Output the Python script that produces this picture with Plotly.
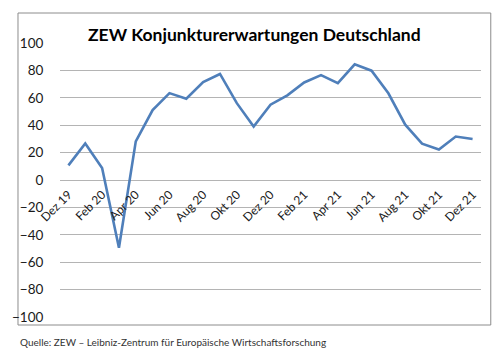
import plotly.graph_objects as go

months = ["Dez 19", "Jan 20", "Feb 20", "Mrz 20", "Apr 20", "Mai 20", "Jun 20", "Jul 20",
          "Aug 20", "Sep 20", "Okt 20", "Nov 20", "Dez 20", "Jan 21", "Feb 21", "Mrz 21",
          "Apr 21", "Mai 21", "Jun 21", "Jul 21", "Aug 21", "Sep 21", "Okt 21", "Nov 21", "Dez 21"]
values = [10.7, 26.7, 8.7, -49.5, 28.2, 51.0, 63.4, 59.3, 71.5, 77.4, 56.1, 39.0, 55.0,
          61.8, 71.2, 76.6, 70.7, 84.4, 79.8, 63.3, 40.4, 26.5, 22.3, 31.7, 29.9]
tick_labels = months[::2]
y_ticks = list(range(-100, 101, 20))

W, H = 500, 354
L, R, T, B = 50, 19, 43, 37
pw, ph = W - L - R, H - T - B

def px_x(p):
    return (p - L) / pw

def px_y(p):
    return (H - B - p) / ph

fig = go.Figure()
fig.add_trace(go.Scatter(
    x=list(range(len(months))), y=values, mode="lines",
    line=dict(color="#4f7fba", width=2.6), hoverinfo="skip", showlegend=False))

fig.update_layout(
    width=W, height=H,
    margin=dict(l=L, r=R, t=T, b=B),
    paper_bgcolor="white", plot_bgcolor="white",
    font=dict(family="Lato, Open Sans, sans-serif", color="#1a1a1a"),
    xaxis=dict(
        range=[-0.5, len(months) - 0.5],
        tickmode="array",
        tickvals=list(range(0, len(months), 2)),
        ticktext=tick_labels,
        tickangle=-45,
        tickfont=dict(size=12),
        showgrid=False, zeroline=False, showline=False,
        ticks="outside", ticklen=2, tickcolor="rgba(0,0,0,0)",
        anchor="free", position=0.5,
    ),
    yaxis=dict(
        range=[-100, 100],
        tickvals=y_ticks,
        tickfont=dict(size=13.5),
        showgrid=True, gridcolor="#b4b4b4", gridwidth=1.2,
        zeroline=False, showline=False,
        ticks="outside", ticklen=13, tickcolor="rgba(0,0,0,0)",
    ),
    shapes=[dict(type="rect", xref="paper", yref="paper",
                 x0=px_x(7), x1=px_x(491), y0=px_y(325), y1=px_y(13),
                 line=dict(color="#8c8c8c", width=1), fillcolor="rgba(0,0,0,0)", layer="below")],
    annotations=[
        dict(text="<b>ZEW Konjunkturerwartungen Deutschland</b>", xref="paper", yref="paper",
             x=px_x(249), y=px_y(34), xanchor="center", yanchor="middle", showarrow=False,
             font=dict(size=17.5, color="#000000")),
        dict(text="Quelle: ZEW – Leibniz-Zentrum für Europäische Wirtschaftsforschung",
             xref="paper", yref="paper", x=px_x(7), y=px_y(342), xanchor="left", yanchor="middle",
             showarrow=False, font=dict(size=10, color="#333333")),
    ],
)

fig.write_html("out.html")
